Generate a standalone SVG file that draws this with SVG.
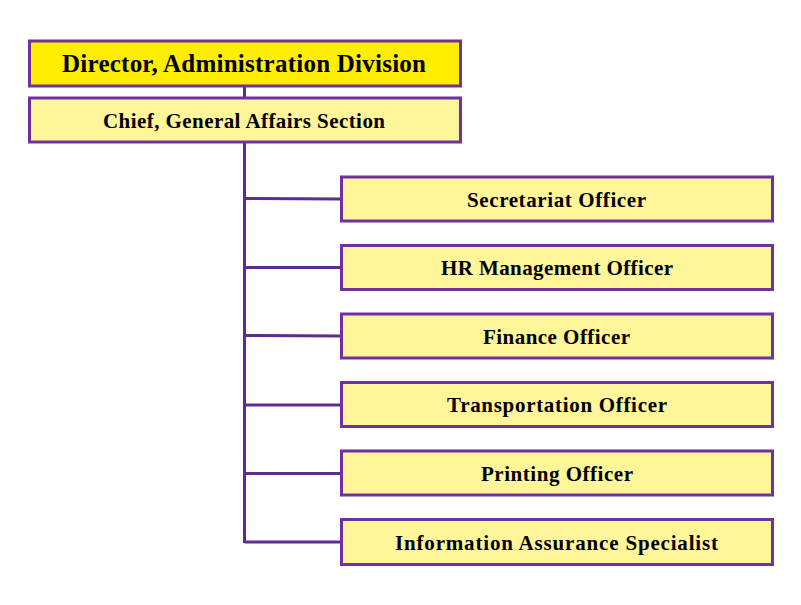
<svg xmlns="http://www.w3.org/2000/svg" width="801" height="605" viewBox="0 0 801 605">
<style>
.box{stroke:#7030a0;stroke-width:3;}
.top{fill:#ffee00;}
.sub{fill:#fff599;}
.t{font-family:"Liberation Serif","DejaVu Serif",serif;font-weight:bold;fill:#000;text-anchor:middle;dominant-baseline:central;}
.conn{stroke:#5b2d91;stroke-width:3;fill:none;}
</style>
<rect width="801" height="605" fill="#ffffff"/>
<g id="connectors">
<line class="conn" x1="244.5" y1="86" x2="244.5" y2="98"/>
<line class="conn" x1="244.5" y1="141" x2="244.5" y2="543"/>
<line class="conn" x1="244.5" y1="198.5" x2="341" y2="199"/>
<line class="conn" x1="244.5" y1="267.5" x2="341" y2="267.5"/>
<line class="conn" x1="244.5" y1="335.5" x2="341" y2="336"/>
<line class="conn" x1="244.5" y1="405" x2="341" y2="405"/>
<line class="conn" x1="244.5" y1="473.5" x2="341" y2="473.5"/>
<line class="conn" x1="244.5" y1="542" x2="341" y2="542"/>
</g>
<g id="director">
<rect class="box top" x="29.5" y="41" width="431" height="45"/>
<text class="t" x="244" y="63.5" font-size="25" textLength="364">Director, Administration Division</text>
</g>
<g id="chief">
<rect class="box sub" x="29.5" y="98" width="431" height="44"/>
<text class="t" x="244" y="120.5" font-size="21" textLength="282">Chief, General Affairs Section</text>
</g>
<g id="secretariat">
<rect class="box sub" x="341.5" y="177" width="431" height="44"/>
<text class="t" x="556.5" y="199.5" font-size="21" textLength="179">Secretariat Officer</text>
</g>
<g id="hr">
<rect class="box sub" x="341.5" y="245.5" width="431" height="44"/>
<text class="t" x="557" y="268" font-size="21" textLength="232">HR Management Officer</text>
</g>
<g id="finance">
<rect class="box sub" x="341.5" y="314" width="431" height="44"/>
<text class="t" x="556.5" y="336.5" font-size="21" textLength="147">Finance Officer</text>
</g>
<g id="transportation">
<rect class="box sub" x="341.5" y="382.5" width="431" height="44"/>
<text class="t" x="557" y="405" font-size="21" textLength="220">Transportation Officer</text>
</g>
<g id="printing">
<rect class="box sub" x="341.5" y="451" width="431" height="44"/>
<text class="t" x="557" y="473.5" font-size="21" textLength="152">Printing Officer</text>
</g>
<g id="infoassurance">
<rect class="box sub" x="341.5" y="519.5" width="431" height="45"/>
<text class="t" x="556.5" y="542.5" font-size="21" textLength="323">Information Assurance Specialist</text>
</g>
</svg>
